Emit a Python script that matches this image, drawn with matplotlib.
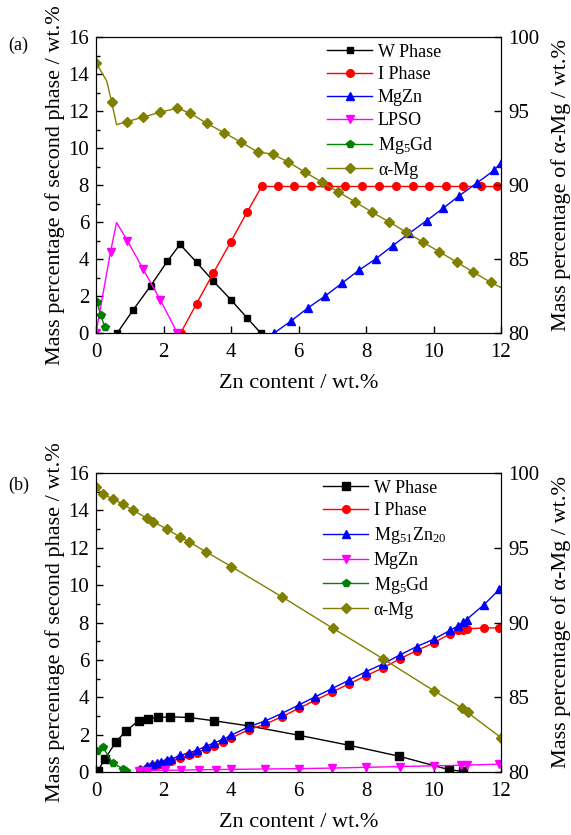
import numpy as np
import matplotlib
matplotlib.use("Agg")
import matplotlib.pyplot as plt

plt.rcParams["font.family"] = ["Liberation Serif", "DejaVu Serif"]
plt.rcParams["mathtext.fontset"] = "custom"
plt.rcParams["mathtext.rm"] = "Liberation Serif"
plt.rcParams["mathtext.default"] = "rm"

# ---- panel (a) ----
a_w_x = [0.63, 1.11, 1.62, 2.11, 2.49, 2.98, 3.48, 3.99, 4.48, 4.88]
a_w_y = [0.0, 1.27, 2.55, 3.87, 4.79, 3.82, 2.80, 1.81, 0.81, 0.0]

a_i_x = [2.51, 2.98, 3.48, 3.99, 4.48, 4.91, 5.38, 5.88, 6.38, 6.87, 7.38, 7.88,
         8.38, 8.89, 9.38, 9.88, 10.38, 10.88, 11.40, 11.89]
a_i_y = [0.0, 1.59, 3.25, 4.92, 6.55, 7.92, 7.92, 7.92, 7.92, 7.92, 7.92, 7.92,
         7.92, 7.92, 7.92, 7.92, 7.92, 7.92, 7.92, 7.92]

a_mgzn_x = [5.28, 5.78, 6.29, 6.79, 7.28, 7.78, 8.29, 8.79, 9.28, 9.80, 10.29,
            10.77, 11.28, 11.79, 11.99]
a_mgzn_y = [0.0, 0.65, 1.37, 2.0, 2.68, 3.38, 4.01, 4.72, 5.39, 6.08, 6.75,
            7.43, 8.10, 8.79, 9.19]

a_lpso_x = [0.0, 0.43, 0.61, 0.93, 1.40, 1.90, 2.41]
a_lpso_y = [0.0, 4.39, 5.97, 4.99, 3.44, 1.81, 0.0]
a_lpso_mk = [0, 1, 3, 4, 5, 6]

a_gd_x = [0.03, 0.14, 0.26]
a_gd_y = [1.68, 0.96, 0.33]

a_mg_x = [0.0, 0.32, 0.46, 0.61, 0.91, 1.40, 1.90, 2.41, 2.79, 3.28, 3.79, 4.29,
          4.79, 5.23, 5.70, 6.19, 6.70, 7.17, 7.68, 8.18, 8.69, 9.19, 9.68,
          10.17, 10.69, 11.18, 11.69, 12.0]
a_mg_y = [98.26, 97.02, 95.62, 94.08, 94.28, 94.58, 94.92, 95.19, 94.85, 94.17,
          93.54, 92.90, 92.23, 92.09, 91.55, 90.87, 90.19, 89.54, 88.86, 88.16,
          87.50, 86.82, 86.15, 85.49, 84.79, 84.11, 83.43, 83.07]
a_mg_mk = [0, 2] + list(range(4, 27))

# ---- panel (b) ----
b_w_x = [0.05, 0.27, 0.59, 0.89, 1.26, 1.54, 1.84, 2.20, 2.75, 3.50, 4.52,
         6.0, 7.5, 8.99, 10.47, 10.88]
b_w_y = [0.05, 0.72, 1.61, 2.20, 2.74, 2.86, 2.92, 2.95, 2.92, 2.74, 2.47,
         1.97, 1.43, 0.84, 0.12, 0.03]

b_x = [1.29, 1.50, 1.65, 1.80, 1.92, 2.10, 2.22, 2.50, 2.75, 2.99, 3.26, 3.50,
       3.76, 4.01, 4.52, 5.0, 5.50, 6.0, 6.50, 7.0, 7.50, 8.0, 8.5, 9.0, 9.5,
       10.0, 10.49, 10.74, 10.88, 10.98, 11.50, 11.95]
b_zn_y = [0.18, 0.30, 0.41, 0.48, 0.54, 0.63, 0.68, 0.89, 1.02, 1.16, 1.38,
          1.56, 1.74, 1.97, 2.42, 2.72, 3.13, 3.58, 4.03, 4.47, 4.92, 5.37,
          5.78, 6.26, 6.71, 7.10, 7.58, 7.83, 8.01, 8.16, 8.96, 9.77]
b_i_y = [0.12, 0.22, 0.32, 0.38, 0.44, 0.52, 0.57, 0.77, 0.89, 1.02, 1.23,
         1.40, 1.58, 1.82, 2.26, 2.55, 2.95, 3.40, 3.84, 4.28, 4.72, 5.15,
         5.57, 6.05, 6.50, 6.90, 7.40, 7.58, 7.62, 7.66, 7.71, 7.71]

b_mgzn_x = [1.28, 1.5, 2.03, 2.52, 3.06, 3.55, 4.0, 5.0, 6.01, 7.0, 8.0, 9.0,
            10.0, 10.8, 11.0, 11.95]
b_mgzn_y = [0.05, 0.07, 0.09, 0.10, 0.12, 0.13, 0.14, 0.16, 0.18, 0.21, 0.25,
            0.29, 0.33, 0.36, 0.37, 0.42]

b_gd_x = [0.02, 0.2, 0.49, 0.79, 0.9]
b_gd_y = [1.13, 1.34, 0.48, 0.18, 0.08]

b_mg_x = [0.0, 0.2, 0.5, 0.79, 1.09, 1.50, 1.70, 2.10, 2.50, 2.75, 3.26, 4.01,
          5.5, 7.02, 8.50, 10.0, 10.85, 11.01, 12.0]
b_mg_y = [99.06, 98.57, 98.28, 97.92, 97.52, 96.98, 96.74, 96.25, 95.71, 95.40,
          94.73, 93.74, 91.73, 89.61, 87.58, 85.45, 84.27, 83.98, 82.30]

fig = plt.figure(figsize=(5.71, 8.35), dpi=100)
ax_a = fig.add_axes([96 / 571, 1 - 333 / 835, 405 / 571, 296 / 835])
ax_b = fig.add_axes([96 / 571, 1 - 772 / 835, 405 / 571, 299 / 835])

ms = 5.5
lw = 1.0


def style_axes(ax, ax2):
    ax.set_xlim(0, 12)
    ax.set_ylim(0, 16)
    ax2.set_ylim(80, 100)
    ax.set_xticks(range(0, 13, 2))
    ax.set_yticks(range(0, 17, 2))
    ax.set_yticks(range(1, 16, 2), minor=True)
    ax2.set_yticks(range(80, 101, 5))
    ax.tick_params(axis="both", direction="in", labelsize=15, length=5, width=1,
                   top=False, pad=5)
    ax.tick_params(axis="x", pad=7)
    ax.tick_params(axis="y", which="minor", direction="in", length=3, width=1)
    ax2.tick_params(axis="y", direction="in", labelsize=15, length=5, width=1,
                    pad=5)
    ax.set_xlabel("Zn content / wt.%", fontsize=16, labelpad=9)
    ax.set_ylabel("Mass percentage of second phase / wt.%", fontsize=16,
                  labelpad=2)
    ax2.set_ylabel("Mass percentage of α-Mg / wt.%", fontsize=16, labelpad=9)


ax_a2 = ax_a.twinx()
ax_a.plot(a_w_x, a_w_y, "-s", color="black", lw=lw, ms=ms - 0.5, label="W Phase")
ax_a.plot(a_i_x, a_i_y, "-o", color="red", lw=lw, ms=ms, label="I Phase")
ax_a.plot(a_mgzn_x, a_mgzn_y, "-^", color="blue", lw=lw, ms=ms, label="MgZn")
ax_a.plot(a_lpso_x, a_lpso_y, "-v", color="magenta", lw=lw, ms=ms,
          markevery=a_lpso_mk, label="LPSO")
ax_a.plot(a_gd_x, a_gd_y, "-p", color="green", lw=lw, ms=ms, label="Mg$_5$Gd")
l_a = ax_a2.plot(a_mg_x, a_mg_y, "-D", color="olive", lw=lw, ms=ms - 0.5,
                 markevery=a_mg_mk, label="α-Mg")
style_axes(ax_a, ax_a2)
h, l = ax_a.get_legend_handles_labels()
ax_a.legend(h + l_a, l + ["α-Mg"], loc="upper left", bbox_to_anchor=(0.54, 1.02),
            frameon=False, fontsize=13, handlelength=2.5, labelspacing=0.32,
            handletextpad=0.3, borderpad=0.2)

ax_b2 = ax_b.twinx()
ax_b.plot(b_w_x, b_w_y, "-s", color="black", lw=lw, ms=ms, label="W Phase")
ax_b.plot(b_x, b_i_y, "-o", color="red", lw=lw, ms=ms, label="I Phase")
ax_b.plot(b_x, b_zn_y, "-^", color="blue", lw=lw, ms=ms + 0.5,
          label="Mg$_{51}$Zn$_{20}$")
ax_b.plot(b_mgzn_x, b_mgzn_y, "-v", color="magenta", lw=lw, ms=ms + 0.5,
          label="MgZn")
ax_b.plot(b_gd_x, b_gd_y, "-p", color="green", lw=lw, ms=ms + 0.5,
          label="Mg$_5$Gd")
l_b = ax_b2.plot(b_mg_x, b_mg_y, "-D", color="olive", lw=lw, ms=ms,
                 label="α-Mg")
style_axes(ax_b, ax_b2)
h, l = ax_b.get_legend_handles_labels()
ax_b.legend(h + l_b, l + ["α-Mg"], loc="upper left", bbox_to_anchor=(0.53, 1.02),
            frameon=False, fontsize=13, handlelength=2.5, labelspacing=0.32,
            handletextpad=0.3, borderpad=0.2)

fig.text(8 / 571, 1 - 45 / 835, "(a)", fontsize=13, va="center")
fig.text(8 / 571, 1 - 485 / 835, "(b)", fontsize=13, va="center")

fig.savefig("out.png", dpi=100)
